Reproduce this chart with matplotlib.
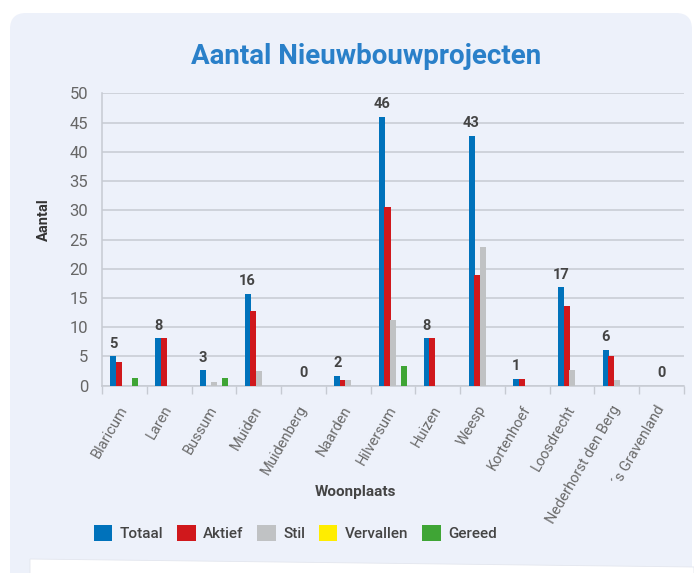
import numpy as np
import matplotlib
matplotlib.use("Agg")
import matplotlib.pyplot as plt
from matplotlib.patches import FancyBboxPatch, Polygon, Patch

plt.rcParams['font.family'] = ['Roboto', 'DejaVu Sans']

# data
plaatsen = ['Blaricum', 'Laren', 'Bussum', 'Muiden', 'Muidenberg', 'Naarden', 'Hilversum',
            'Huizen', 'Weesp', 'Kortenhoef', 'Loosdrecht', 'Nederhorst den Berg', '\u00b4s Gravenland']
totaal = [5.0, 8.1, 2.6, 15.7, 0, 1.7, 46.0, 8.1, 42.7, 1.15, 16.8, 6.1, 0]
aktief = [4.1, 8.1, 0, 12.7, 0, 0.9, 30.5, 8.1, 18.9, 1.15, 13.7, 5.0, 0]
stil = [0, 0, 0.6, 2.5, 0, 0.9, 11.3, 0, 23.7, 0, 2.7, 0.9, 0]
vervallen = [0, 0, 0, 0, 0, 0, 0, 0, 0, 0, 0, 0, 0]
gereed = [1.3, 0, 1.3, 0, 0, 0, 3.4, 0, 0, 0, 0, 0, 0]
labels = [5, 8, 3, 16, 0, 2, 46, 8, 43, 1, 17, 6, 0]

series = [('Totaal', totaal, '#0072bb'), ('Aktief', aktief, '#d0181c'),
          ('Stil', stil, '#c0c2c4'), ('Vervallen', vervallen, '#ffed00'),
          ('Gereed', gereed, '#3fa535')]

W, H = 694, 573
fig = plt.figure(figsize=(W / 100, H / 100), dpi=100)
fig.patch.set_facecolor('white')

# background card
bg = fig.add_axes([0, 0, 1, 1])
bg.set_xlim(0, W)
bg.set_ylim(H, 0)
bg.axis('off')
bg.add_patch(FancyBboxPatch((10, 13), 682, 580, boxstyle='round,pad=0,rounding_size=16',
                            facecolor='#edf1fa', edgecolor='none'))
bg.add_patch(Polygon([(30, 559), (W, 567), (W, H + 2), (30, H + 2)], closed=True,
                     facecolor='white', edgecolor='#e3e6ee', linewidth=0.6))

ax = fig.add_axes([102 / W, 1 - 385.7 / H, 582 / W, 292.4 / H])
ax.set_facecolor('none')

x = np.arange(len(plaatsen))
step = 0.123
bw = 0.135
for i, (name, vals, col) in enumerate(series):
    ax.bar(x + (i - 2) * step, vals, width=bw, color=col, zorder=3, label=name)

for i, (v, lab) in enumerate(zip(totaal, labels)):
    xi = x[i] - 2 * step if v > 0 else x[i]
    ax.annotate(str(lab), (xi, v), xytext=(0, 4), textcoords='offset points',
                ha='center', va='bottom', fontsize=10.5, fontweight='bold', color='#444444', zorder=4)

ax.set_xlim(-0.5, len(plaatsen) - 0.5)
ax.set_ylim(0, 50)
ax.set_yticks(np.arange(0, 51, 5))
ax.grid(axis='y', color='#c6cad2', linewidth=1.1, zorder=0)
ax.tick_params(axis='y', length=0, pad=10, labelsize=12, labelcolor='#666666')

ax.set_xticks(x)
ax.set_xticklabels(plaatsen, rotation=60, ha='right', va='center', rotation_mode='anchor',
                   fontsize=10.5, color='#6a6a6a')
ax.tick_params(axis='x', length=0, pad=15)
ax.set_xticks(np.arange(-0.5, len(plaatsen)), minor=True)
ax.tick_params(axis='x', which='minor', length=6, color='#c6cad2', width=1)

for s in ['top', 'right']:
    ax.spines[s].set_visible(False)
for s in ['left', 'bottom']:
    ax.spines[s].set_color('#c6cad2')
    ax.spines[s].set_linewidth(1.1)

fig.text(366 / W, 1 - 57 / H, 'Aantal Nieuwbouwprojecten', ha='center', va='center',
         fontsize=20, fontweight='bold', color='#2a80c9')
fig.text(44 / W, 1 - 220 / H, 'Aantal', rotation=90, ha='center', va='center',
         fontsize=10.5, fontweight='bold', color='#333333')
fig.text(355 / W, 1 - 492 / H, 'Woonplaats', ha='center', va='center',
         fontsize=11, fontweight='bold', color='#444444')

handles = [Patch(facecolor=c, edgecolor='none') for _, _, c in series]
leg = fig.legend(handles, [n for n, _, _ in series], loc='center', ncol=5,
                 bbox_to_anchor=(295.5 / W, 1 - 533 / H), frameon=False,
                 handlelength=1.2, handleheight=1.2, handletextpad=0.5, columnspacing=0.9,
                 prop={'size': 11, 'weight': 'medium'})
for t in leg.get_texts():
    t.set_color('#444444')

fig.savefig('out.png', dpi=100)
